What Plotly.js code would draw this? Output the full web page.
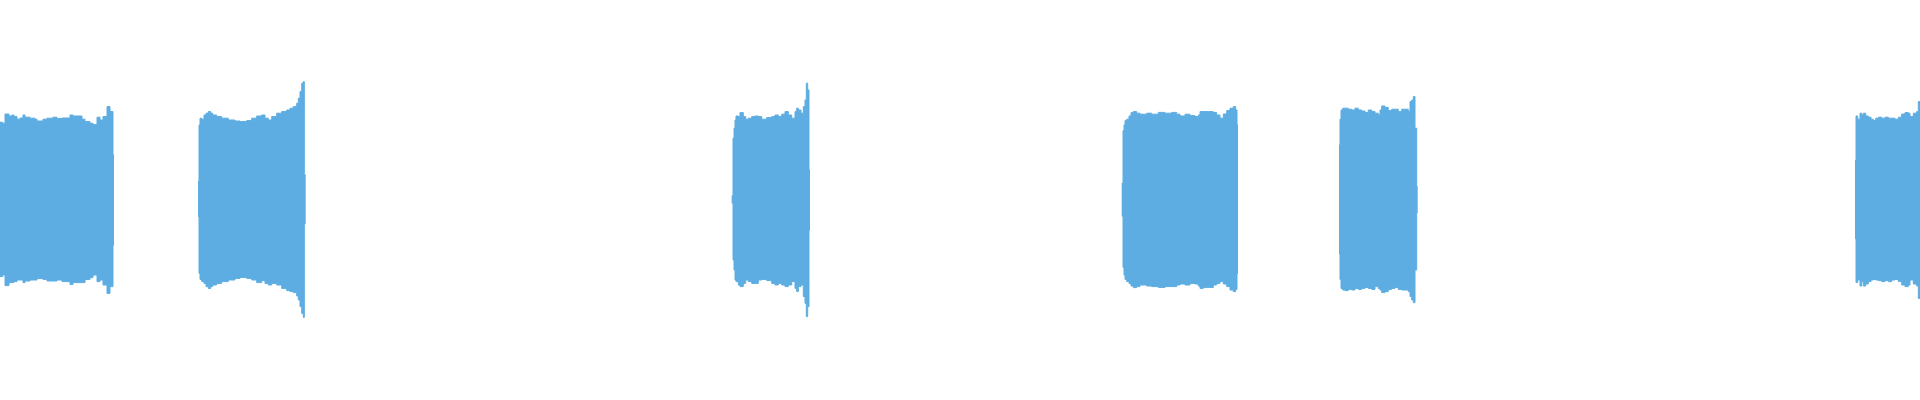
<!DOCTYPE html>
<html>
<head>
<meta charset="utf-8">
<script src="https://cdn.plot.ly/plotly-3.0.1.min.js"></script>
<style>html,body{margin:0;padding:0;background:#fff;}#chart{width:1920px;height:400px;}</style>
</head>
<body>
<div id="chart"></div>
<script>
// Waveform envelope, time in frames (10 ms), amplitude normalised to [-1, 1]
const b1_t   = [0, 2.7, 5, 9, 12, 14, 17, 20, 23, 25, 30, 35, 37, 43, 47, 53, 57, 62, 70, 73, 82, 85, 90, 93, 97, 100, 103, 107, 110, 113, 114];
const b1_top = [.389, .384, .430, .420, .425, .417, .404, .410, .425, .414, .409, .404, .395, .404, .409, .414, .407, .410, .425, .420, .404, .392, .384, .377, .414, .400, .417, .467, .442, .225, .225];
const b1_bot = [-.383, -.375, -.428, -.413, -.413, -.408, -.400, -.400, -.413, -.405, -.400, -.400, -.393, -.397, -.405, -.405, -.400, -.408, -.422, -.413, -.413, -.397, -.388, -.375, -.408, -.400, -.425, -.467, -.433, -.225, -.225];

const b2_t   = [198, 199, 200, 201.7, 204, 206, 208.3, 210.7, 212.7, 216.7, 221.7, 228.3, 235, 240, 246.7, 251.7, 256.7, 261.7, 265, 268.3, 271.7, 276.7, 281.7, 286.7, 290, 293.3, 296.7, 298.3, 300, 301.7, 303.3, 304.3, 305.7];
const b2_top = [.092, .375, .409, .404, .425, .434, .442, .434, .425, .417, .409, .400, .395, .392, .397, .409, .420, .425, .409, .400, .417, .434, .442, .450, .459, .467, .484, .509, .542, .584, .592, .125, .125];
const b2_bot = [-.083, -.367, -.397, -.408, -.417, -.433, -.442, -.433, -.425, -.417, -.408, -.400, -.392, -.387, -.392, -.400, -.413, -.403, -.417, -.425, -.417, -.425, -.442, -.453, -.458, -.463, -.480, -.500, -.533, -.567, -.587, -.117, -.117];

const b3_t   = [731.7, 733, 734, 735, 736, 738.3, 740, 743.3, 745.7, 748.3, 751.7, 755, 758.3, 761.7, 766.7, 771.7, 775, 778.3, 781.7, 785, 788.3, 791.7, 795, 796.7, 798.3, 801, 803.3, 805, 806.3, 807.7, 809, 810];
const b3_top = [.020, .309, .359, .400, .420, .417, .437, .417, .404, .409, .417, .420, .417, .404, .412, .417, .425, .417, .429, .442, .425, .409, .442, .459, .450, .434, .467, .500, .584, .550, .150, .150];
const b3_bot = [-.015, -.300, -.350, -.400, -.408, -.425, -.433, -.417, -.400, -.408, -.417, -.417, -.400, -.397, -.403, -.417, -.425, -.417, -.425, -.433, -.425, -.408, -.442, -.458, -.433, -.425, -.483, -.517, -.583, -.533, -.150, -.150];

const b4_t   = [1121.7, 1123, 1124, 1125, 1126.7, 1129, 1131, 1133.3, 1136.7, 1140, 1146.7, 1151.7, 1158.3, 1165, 1171.7, 1176.7, 1180, 1185, 1190, 1195, 1198.3, 1200, 1203.3, 1208.3, 1213.3, 1216.7, 1220, 1223.3, 1226.7, 1230, 1233.3, 1235.7, 1237, 1238];
const b4_top = [.083, .347, .375, .397, .404, .420, .437, .442, .434, .429, .434, .429, .438, .434, .438, .429, .420, .429, .422, .417, .425, .442, .442, .442, .437, .425, .409, .430, .447, .459, .467, .450, .375, .375];
const b4_bot = [-.080, -.337, -.375, -.397, -.408, -.417, -.430, -.438, -.433, -.425, -.430, -.433, -.437, -.433, -.433, -.425, -.420, -.425, -.417, -.420, -.430, -.442, -.437, -.437, -.425, -.417, -.408, -.420, -.433, -.450, -.458, -.447, -.367, -.367];

const b5_t   = [1339, 1340, 1341, 1342.7, 1345, 1348.3, 1351.7, 1355, 1358.3, 1361.7, 1365, 1368.3, 1371.7, 1375, 1378.3, 1380, 1381.7, 1385, 1388.3, 1391.7, 1395, 1398.3, 1401.7, 1405, 1408.3, 1410, 1411.7, 1413.3, 1415, 1416.7, 1417.7];
const b5_top = [.275, .404, .450, .459, .459, .454, .450, .459, .450, .445, .437, .450, .442, .434, .425, .450, .470, .463, .447, .454, .454, .442, .454, .454, .442, .492, .500, .517, .359, .067, .067];
const b5_bot = [-.270, -.397, -.442, -.450, -.453, -.447, -.450, -.442, -.447, -.442, -.437, -.442, -.447, -.433, -.442, -.450, -.463, -.458, -.447, -.442, -.437, -.447, -.450, -.450, -.458, -.483, -.500, -.513, -.350, -.063, -.063];

const b6_t   = [1855, 1856, 1857.7, 1860, 1861.7, 1863.3, 1865.7, 1868.3, 1871, 1873.3, 1875.7, 1878.3, 1881.7, 1885, 1888.3, 1891.7, 1895, 1898.3, 1901.7, 1905, 1908.3, 1910, 1913.3, 1916.7, 1918.3, 1920];
const b6_top = [.197, .420, .404, .434, .425, .434, .420, .414, .404, .397, .409, .414, .409, .414, .409, .409, .404, .414, .430, .437, .434, .417, .434, .442, .492, .492];
const b6_bot = [-.193, -.413, -.400, -.430, -.408, -.430, -.420, -.408, -.400, -.397, -.400, -.403, -.408, -.403, -.408, -.400, -.397, -.408, -.425, -.433, -.425, -.400, -.420, -.430, -.492, -.492];

const blocks = [
  [b1_t, b1_top, b1_bot], [b2_t, b2_top, b2_bot], [b3_t, b3_top, b3_bot],
  [b4_t, b4_top, b4_bot], [b5_t, b5_top, b5_bot], [b6_t, b6_top, b6_bot]
];
const WAVE = '#5DADE2';
const traces = [];
blocks.forEach(function (b) {
  [b[1], b[2]].forEach(function (vals) {
    traces.push({
      type: 'scatter', mode: 'lines', x: b[0], y: vals,
      line: {shape: 'hv', color: WAVE, width: 1},
      fill: 'tozeroy', fillcolor: WAVE, hoverinfo: 'skip'
    });
  });
});

Plotly.newPlot('chart', traces, {
  width: 1920, height: 400,
  margin: {l: 0, r: 0, t: 0, b: 0},
  paper_bgcolor: '#ffffff', plot_bgcolor: '#ffffff',
  showlegend: false,
  xaxis: {range: [0, 1920], visible: false, fixedrange: true},
  yaxis: {range: [-1, 1], visible: false, fixedrange: true}
}, {displayModeBar: false, staticPlot: true});
</script>
</body>
</html>
